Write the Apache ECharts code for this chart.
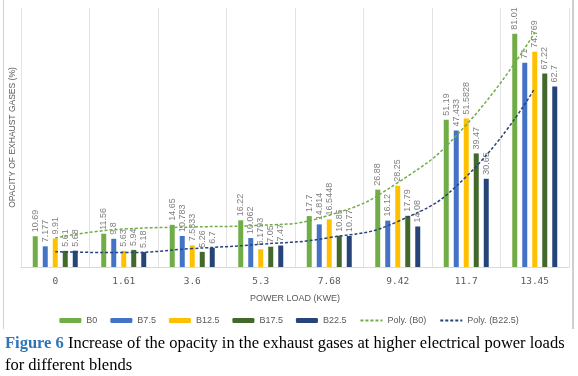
<!DOCTYPE html>
<html>
<head>
<meta charset="utf-8">
<script src="https://cdn.jsdelivr.net/npm/echarts@6/dist/echarts.min.js"></script>
<style>
html, body { margin: 0; padding: 0; background: #fff; }
#chart_content { width: 578px; height: 376px; }
</style>
</head>
<body>
<div id="chart_content"></div>
<script>
//功率负载（横轴类目）
var power_load = ["0", "1.61", "3.6", "5.3", "7.68", "9.42", "11.7", "13.45"];
//各混合燃料的不透明度
var blend_names = ["B0", "B7.5", "B12.5", "B17.5", "B22.5"];
var b0_data = [10.69, 11.56, 14.65, 16.22, 17.7, 26.88, 51.19, 81.01];
var b75_data = [7.177, 9.8, 10.783, 10.062, 14.814, 16.12, 47.433, 71];
var b125_data = [9.91, 5.63, 7.5333, 6.1793, 16.5448, 28.25, 51.5828, 74.769];
var b175_data = [5.61, 5.94, 5.26, 7.05, 10.85, 17.79, 39.47, 67.22];
var b225_data = [5.68, 5.18, 6.7, 7.47, 10.77, 14.08, 30.65, 62.7];
//趋势线
var poly_b0_data = [10.1, 13.2, 13.9, 14.5, 18.0, 29.3, 49.4, 81.5];
var poly_b225_data = [5.3, 5.0, 6.4, 7.9, 10.2, 15.8, 31.4, 62.1];

var bar_color = ["#70AD47", "#4472C4", "#FFC000", "#43682B", "#264478"];
var text_color = "#595959";

function make_bar(name, data, color){
	return {
		name: name,
		type: "bar",
		barWidth: 5,
		barGap: "100%",
		itemStyle: { color: color },
		label: {
			show: true,
			position: "top",
			rotate: 90,
			align: "left",
			verticalAlign: "middle",
			distance: 4,
			fontSize: 9,
			fontFamily: "Liberation Sans",
			color: "#7f7f7f"
		},
		data: data
	};
}

function make_trend(name, data, color){
	return {
		name: name,
		type: "line",
		smooth: true,
		symbol: "none",
		z: 5,
		lineStyle: { color: color, width: 1.5, type: [3, 2] },
		itemStyle: { color: color },
		data: data
	};
}

//图例：趋势线只显示虚线（隐藏标记点）
var legend_data = blend_names.slice();
legend_data.push({ name: "Poly. (B0)", itemStyle: { opacity: 0 } });
legend_data.push({ name: "Poly. (B22.5)", itemStyle: { opacity: 0 } });

var myChart = echarts.init(document.getElementById("chart_content"));
var option = {
	animation: false,
	grid: { left: 20, right: 9, top: 8, bottom: 109 },
	legend: {
		top: 311,
		left: "center",
		itemWidth: 22,
		itemHeight: 5,
		itemGap: 13,
		textStyle: { fontSize: 9, color: text_color, fontFamily: "Liberation Sans" },
		data: legend_data
	},
	xAxis: {
		type: "category",
		data: power_load,
		name: "POWER LOAD (KWE)",
		nameLocation: "middle",
		nameGap: 27,
		nameTextStyle: { fontSize: 9, color: text_color, fontFamily: "Liberation Sans" },
		axisLine: { lineStyle: { color: "#d9d9d9" } },
		axisTick: { show: false },
		axisLabel: { margin: 10, fontSize: 9.5, color: text_color, fontFamily: "DejaVu Sans Mono" },
		splitLine: { show: true, lineStyle: { color: "#e3e3e3" } }
	},
	yAxis: {
		type: "value",
		min: 0,
		max: 90,
		name: "OPACITY OF EXHAUST GASES (%)",
		nameLocation: "middle",
		nameRotate: 90,
		nameGap: 4,
		nameTextStyle: { fontSize: 8.5, color: text_color, fontFamily: "Liberation Sans" },
		axisLine: { show: false },
		axisTick: { show: false },
		axisLabel: { show: false },
		splitLine: { show: false }
	},
	graphic: [
		{ type: "line", shape: { x1: 3.5, y1: 0, x2: 3.5, y2: 329 }, style: { stroke: "#d0d0d0", lineWidth: 1 } },
		{ type: "line", shape: { x1: 573, y1: 0, x2: 573, y2: 329 }, style: { stroke: "#bfbfbf", lineWidth: 1.5 } },
		{
			type: "text",
			left: 5,
			top: 333,
			style: {
				text: "{fig|Figure 6} Increase of the opacity in the exhaust gases at higher electrical power loads\nfor different blends",
				font: "16.5px 'Liberation Serif'",
				fill: "#000",
				lineHeight: 22,
				rich: {
					fig: { fill: "#2e75b6", fontWeight: "bold", fontSize: 16.5, fontFamily: "Liberation Serif" }
				}
			}
		}
	],
	series: [
		make_bar(blend_names[0], b0_data, bar_color[0]),
		make_bar(blend_names[1], b75_data, bar_color[1]),
		make_bar(blend_names[2], b125_data, bar_color[2]),
		make_bar(blend_names[3], b175_data, bar_color[3]),
		make_bar(blend_names[4], b225_data, bar_color[4]),
		make_trend("Poly. (B0)", poly_b0_data, "#70AD47"),
		make_trend("Poly. (B22.5)", poly_b225_data, "#264478")
	]
};
myChart.setOption(option, true);
</script>
</body>
</html>
